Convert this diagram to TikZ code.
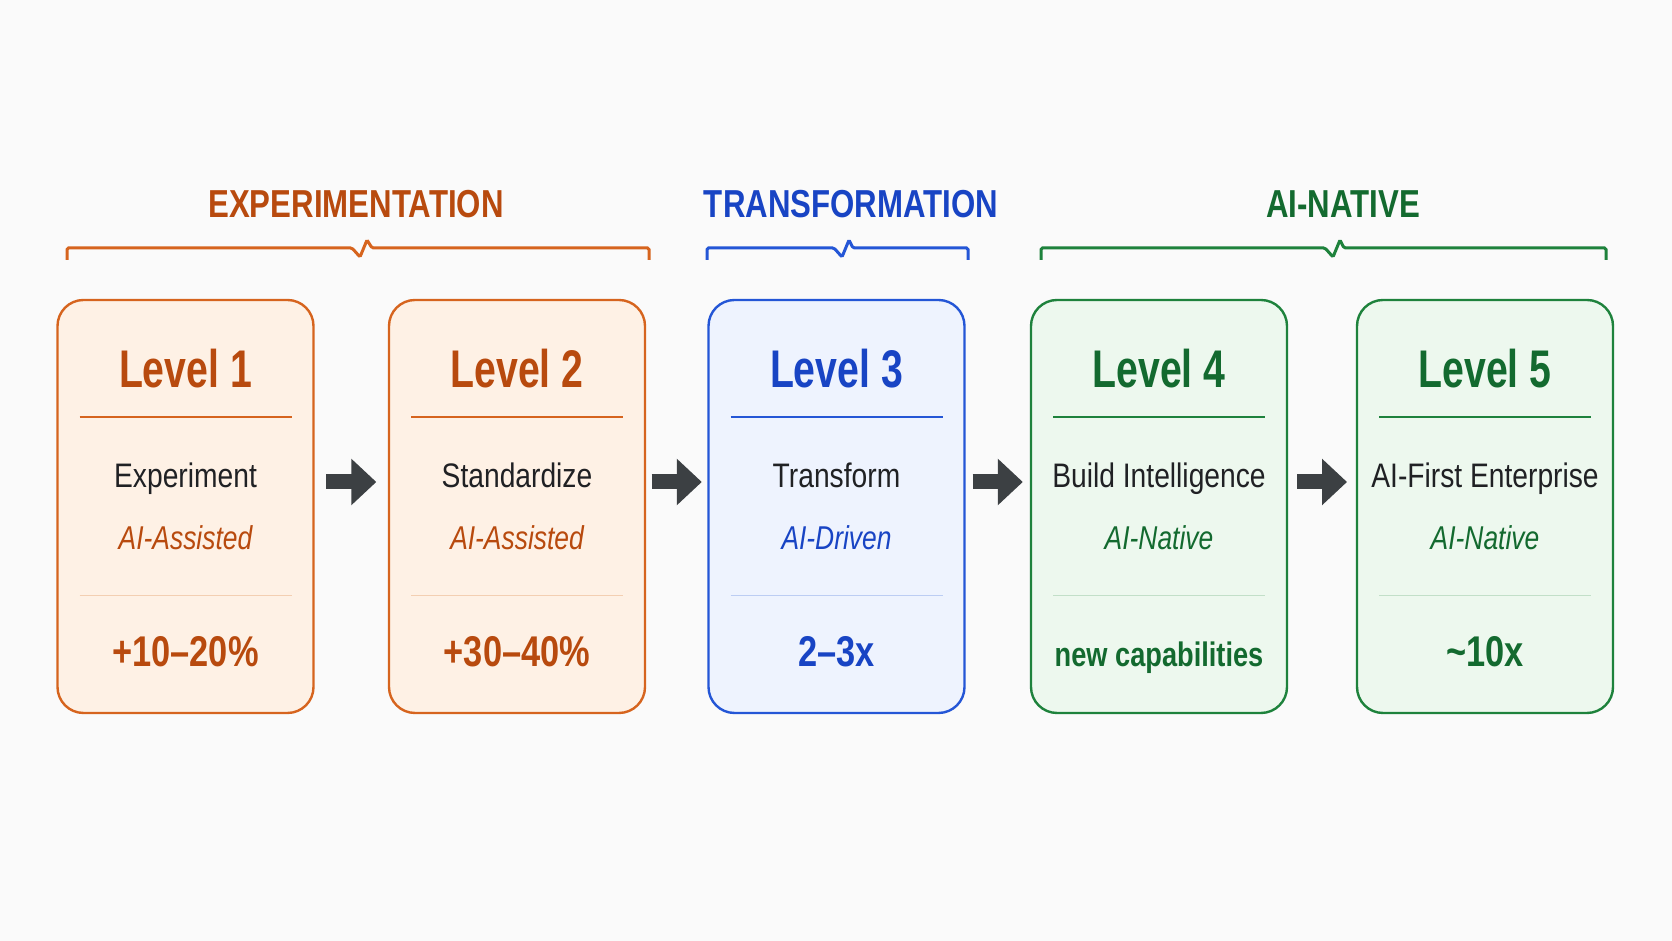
\documentclass[tikz,border=0pt]{standalone}
\usepackage{fontspec}
\setmainfont{Liberation Sans}[FakeStretch=0.8]
\newfontfamily\condfont{Liberation Sans}[FakeStretch=0.74]
\newfontfamily\bodyfont{Liberation Sans}[FakeStretch=0.83]
\usetikzlibrary{positioning,arrows.meta}

\definecolor{bgc}{HTML}{FAFAFA}
\definecolor{inkc}{HTML}{202124}
\definecolor{arrc}{HTML}{3C4043}
\definecolor{orgtx}{HTML}{B84A0E}
\definecolor{orgbd}{HTML}{D6641E}
\definecolor{orgfl}{HTML}{FEF1E5}
\definecolor{orglt}{HTML}{F3CFB2}
\definecolor{blutx}{HTML}{1844C4}
\definecolor{blubd}{HTML}{2456D6}
\definecolor{blufl}{HTML}{EEF3FE}
\definecolor{blult}{HTML}{BCCDF3}
\definecolor{grntx}{HTML}{136A2F}
\definecolor{grnbd}{HTML}{1E823C}
\definecolor{grnfl}{HTML}{EDF8EE}
\definecolor{grnlt}{HTML}{C2DFC8}

\tikzset{
  lvbox/.style={draw=#1bd, fill=#1fl, line width=2.4pt, rounded corners=26pt,
    minimum width=256pt, minimum height=413pt, inner sep=0pt, outer sep=0pt},
  grp/.style={anchor=base, inner sep=0pt, text=#1tx,
    font=\bfseries\fontsize{39}{39}\selectfont},
  ttl/.style={anchor=base, inner sep=0pt, text=#1tx,
    font=\condfont\bfseries\fontsize{53}{53}\selectfont},
  mtxt/.style={anchor=base, inner sep=0pt, text=inkc,
    font=\bodyfont\fontsize{34}{34}\selectfont},
  itx/.style={anchor=base, inner sep=0pt, text=#1tx,
    font=\itshape\fontsize{33}{33}\selectfont},
  val/.style={anchor=base, inner sep=0pt, text=#1tx,
    font=\bfseries\fontsize{43}{43}\selectfont},
  ttlrule/.style={draw=#1bd, line width=2pt},
  ltrule/.style={draw=#1lt, line width=1.3pt},
  brk/.style={draw=#1bd, line width=3pt, rounded corners=1.5pt},
  fatarr/.style={draw=arrc, line width=15pt, -{Triangle[length=25pt,width=45pt]}}
}

\begin{document}
\begin{tikzpicture}[x=1pt,y=1pt]
\useasboundingbox (0,0) rectangle (1672,941);
\fill[bgc] (0,0) rectangle (1672,941);

% phase labels and braces
\node[grp=org] (g1) at (356,723.7)  {EXPERIMENTATION};
\node[grp=blu] (g2) at (851,723.7)  {TRANSFORMATION};
\node[grp=grn] (g3) at (1343,723.7) {AI-NATIVE};
\draw[brk=org] (67,681) -- (67,693) -- (352,693) -- (360,684) -- (367,701) -- (372,693) -- (649,693) -- (649,681);
\draw[brk=blu] (707,681) -- (707,693) -- (834,693) -- (842,684) -- (849,701) -- (853,693) -- (968,693) -- (968,681);
\draw[brk=grn] (1041,681) -- (1041,693) -- (1325,693) -- (1333,684) -- (1340,701) -- (1344,693) -- (1606,693) -- (1606,681);

% level boxes
\node[lvbox=org] (b1) at (185.5,434.5) {};
\node[lvbox=org, right=75.5pt of b1] (b2) {};
\node[lvbox=blu, right=63.5pt of b2] (b3) {};
\node[lvbox=grn, right=66.5pt of b3] (b4) {};
\node[lvbox=grn, right=70pt   of b4] (b5) {};

\node[ttl=org] (t1) at ([yshift=-88pt]b1.north) {Level 1};
\node[ttl=org] (t2) at ([yshift=-88pt]b2.north) {Level 2};
\node[ttl=blu] (t3) at ([yshift=-88pt]b3.north) {Level 3};
\node[ttl=grn] (t4) at ([yshift=-88pt]b4.north) {Level 4};
\node[ttl=grn] (t5) at ([yshift=-88pt]b5.north) {Level 5};

\draw[ttlrule=org] ([xshift=22pt,yshift=-116.7pt]b1.north west) -- ([xshift=-22pt,yshift=-116.7pt]b1.north east);
\draw[ttlrule=org] ([xshift=22pt,yshift=-116.7pt]b2.north west) -- ([xshift=-22pt,yshift=-116.7pt]b2.north east);
\draw[ttlrule=blu] ([xshift=22pt,yshift=-116.7pt]b3.north west) -- ([xshift=-22pt,yshift=-116.7pt]b3.north east);
\draw[ttlrule=grn] ([xshift=22pt,yshift=-116.7pt]b4.north west) -- ([xshift=-22pt,yshift=-116.7pt]b4.north east);
\draw[ttlrule=grn] ([xshift=22pt,yshift=-116.7pt]b5.north west) -- ([xshift=-22pt,yshift=-116.7pt]b5.north east);

\node[mtxt] (m1) at ([yshift=-187.3pt]b1.north) {Experiment};
\node[mtxt] (m2) at ([yshift=-187.3pt]b2.north) {Standardize};
\node[mtxt] (m3) at ([yshift=-187.3pt]b3.north) {Transform};
\node[mtxt] (m4) at ([yshift=-187.3pt]b4.north) {Build Intelligence};
\node[mtxt] (m5) at ([yshift=-187.3pt]b5.north) {AI-First Enterprise};

\node[itx=org] (i1) at ([yshift=-250pt]b1.north) {AI-Assisted};
\node[itx=org] (i2) at ([yshift=-250pt]b2.north) {AI-Assisted};
\node[itx=blu] (i3) at ([yshift=-250pt]b3.north) {AI-Driven};
\node[itx=grn] (i4) at ([yshift=-250pt]b4.north) {AI-Native};
\node[itx=grn] (i5) at ([yshift=-250pt]b5.north) {AI-Native};

\draw[ltrule=org] ([xshift=22pt,yshift=-295.7pt]b1.north west) -- ([xshift=-22pt,yshift=-295.7pt]b1.north east);
\draw[ltrule=org] ([xshift=22pt,yshift=-295.7pt]b2.north west) -- ([xshift=-22pt,yshift=-295.7pt]b2.north east);
\draw[ltrule=blu] ([xshift=22pt,yshift=-295.7pt]b3.north west) -- ([xshift=-22pt,yshift=-295.7pt]b3.north east);
\draw[ltrule=grn] ([xshift=22pt,yshift=-295.7pt]b4.north west) -- ([xshift=-22pt,yshift=-295.7pt]b4.north east);
\draw[ltrule=grn] ([xshift=22pt,yshift=-295.7pt]b5.north west) -- ([xshift=-22pt,yshift=-295.7pt]b5.north east);

\node[val=org] (v1) at ([yshift=-366.7pt]b1.north) {+10–20\%};
\node[val=org] (v2) at ([yshift=-366.7pt]b2.north) {+30–40\%};
\node[val=blu] (v3) at ([yshift=-366.7pt]b3.north) {2–3x};
\node[val=grn, font=\bfseries\fontsize{34}{34}\selectfont] (v4) at ([yshift=-366.7pt]b4.north) {new capabilities};
\node[val=grn] (v5) at ([yshift=-366.7pt]b5.north) {\textasciitilde 10x};

% progression arrows
\draw[fatarr, shorten <=12.7pt, shorten >=12.7pt] ([yshift=24.5pt]b1.east) -- ([yshift=24.5pt]b2.west);
\draw[fatarr, shorten <=6.7pt,  shorten >=6.7pt]  ([yshift=24.5pt]b2.east) -- ([yshift=24.5pt]b3.west);
\draw[fatarr, shorten <=8.2pt,  shorten >=8.2pt]  ([yshift=24.5pt]b3.east) -- ([yshift=24.5pt]b4.west);
\draw[fatarr, shorten <=10pt,   shorten >=10pt]   ([yshift=24.5pt]b4.east) -- ([yshift=24.5pt]b5.west);
\end{tikzpicture}
\end{document}
